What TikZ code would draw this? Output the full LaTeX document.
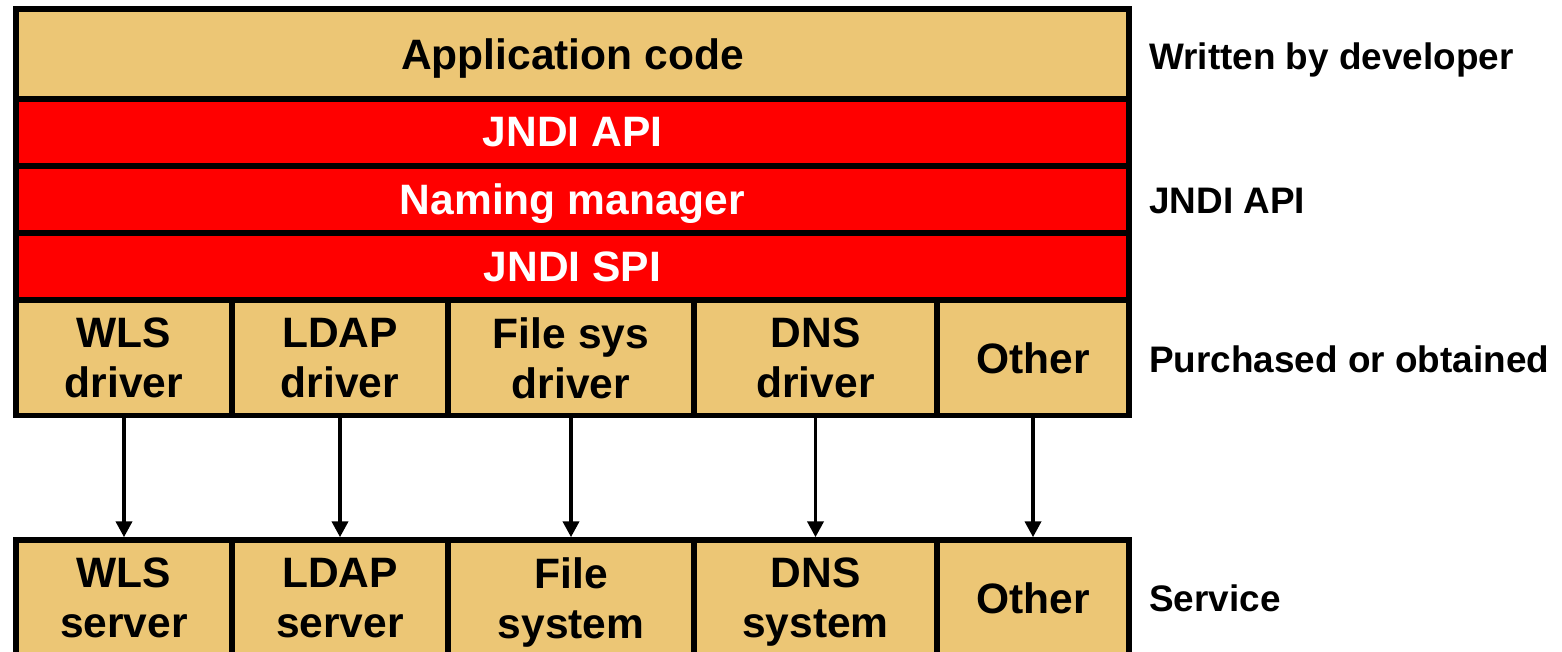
\documentclass[tikz,border=0pt]{standalone}
\usepackage{fontspec}
\setmainfont{Liberation Sans}
\usetikzlibrary{arrows.meta, positioning}
\definecolor{sand}{HTML}{ECC675}
\definecolor{jred}{HTML}{FF0000}

\begin{document}
\begin{tikzpicture}[
  every node/.style={font=\fontsize{24.2}{28.5}\selectfont\bfseries},
  layer/.style={rectangle, draw, line width=3.4pt, fill=sand, inner sep=0pt, text depth=0pt, align=center},
  redlayer/.style={layer, fill=jred, text=white, minimum width=22.26cm, minimum height=1.34cm},
  cell/.style={layer, minimum height=2.31cm},
  note/.style={anchor=west, text depth=0pt, font=\fontsize{21}{24}\selectfont\bfseries},
  flow/.style={line width=2.2pt, -{Triangle[length=9pt,width=9pt]}}
]
\useasboundingbox (0,0) rectangle (31.24,-13.02);

\node[layer, minimum width=22.26cm, minimum height=1.79cm] (app) at (11.45,-1.075) {Application code};
\node[redlayer] (api) at (11.45,-2.645) {JNDI API};
\node[redlayer] (mgr) at (11.45,-3.99) {Naming manager};
\node[redlayer] (spi) at (11.45,-5.33) {JNDI SPI};

\node[cell, minimum width=4.32cm] (wlsdrv) at (2.48,-7.155) {WLS\\driver};
\node[cell, minimum width=4.32cm] (ldapdrv) at (6.80,-7.155) {LDAP\\driver};
\node[cell, minimum width=4.92cm] (fsdrv) at (11.42,-7.155) {File sys\\driver};
\node[cell, minimum width=4.86cm] (dnsdrv) at (16.31,-7.155) {DNS\\driver};
\node[cell, minimum width=3.84cm] (otherdrv) at (20.66,-7.155) {Other};

\node[cell, minimum width=4.32cm] (wlssrv) at (2.48,-11.96) {WLS\\server};
\node[cell, minimum width=4.32cm] (ldapsrv) at (6.80,-11.96) {LDAP\\server};
\node[cell, minimum width=4.92cm] (fssrv) at (11.42,-11.96) {File\\system};
\node[cell, minimum width=4.86cm] (dnssrv) at (16.31,-11.96) {DNS\\system};
\node[cell, minimum width=3.84cm] (othersrv) at (20.66,-11.96) {Other};

\foreach \n in {wls,ldap,fs,dns,other}
  \draw[flow] (\n drv) -- (\n srv);

\node[note] (devnote) at (22.86,-1.12) {Written by developer};
\node[note] (apinote) at (22.86,-4.02) {JNDI API};
\node[note] (buynote) at (22.86,-7.18) {Purchased or obtained};
\node[note] (servnote) at (22.86,-11.96) {Service};
\end{tikzpicture}
\end{document}
